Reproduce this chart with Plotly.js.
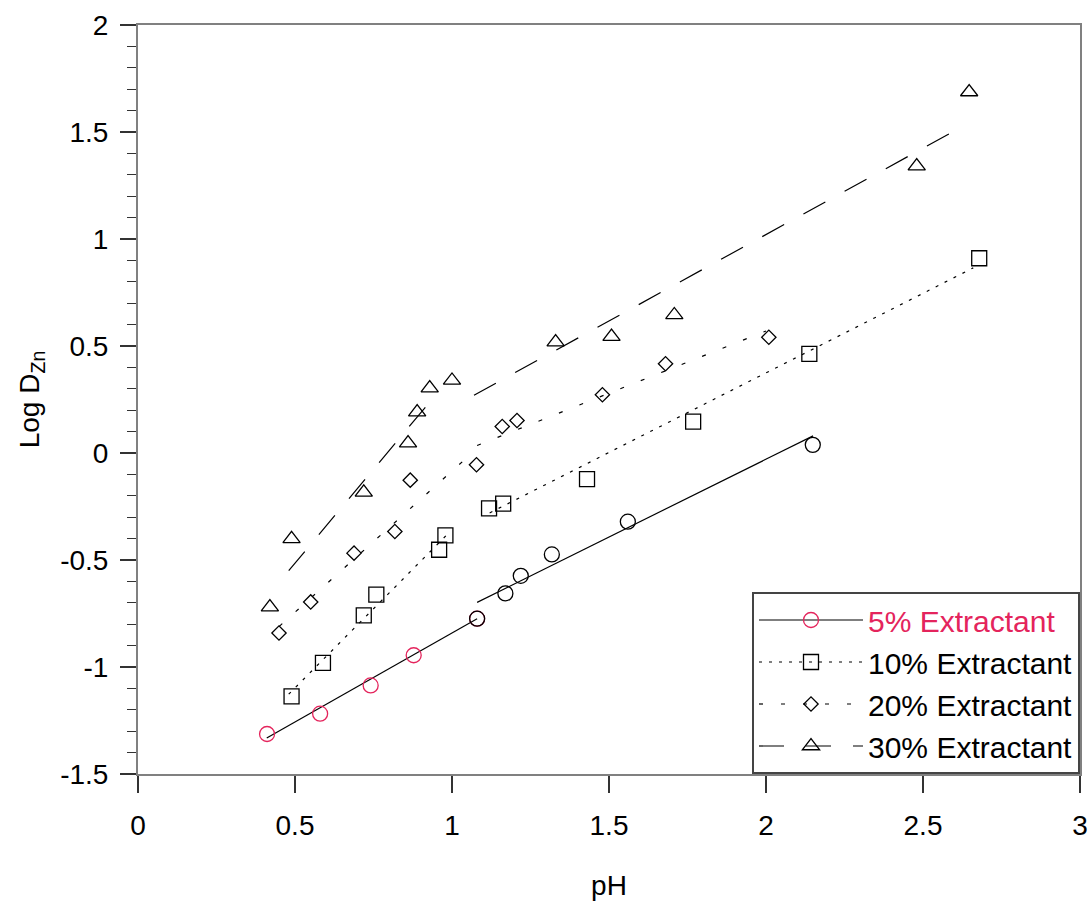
<!DOCTYPE html>
<html>
<head>
<meta charset="utf-8">
<script src="https://cdn.plot.ly/plotly-3.0.1.min.js"></script>
<style>html,body{margin:0;padding:0;background:#fff;}#chart{width:1090px;height:904px;}</style>
</head>
<body>
<div id="chart"></div>
<script>
// ---- Data ----
// 5% Extractant (low-pH points drawn red, high-pH points drawn black)
const pH5a = [0.411, 0.580, 0.741, 0.878, 1.080];
const logD5a = [-1.313, -1.218, -1.086, -0.945, -0.774];
const pH5b = [1.080, 1.170, 1.219, 1.318, 1.560, 2.149];
const logD5b = [-0.774, -0.656, -0.574, -0.474, -0.321, 0.038];
// 10% Extractant
const pH10 = [0.489, 0.589, 0.719, 0.759, 0.959, 0.979, 1.118, 1.163, 1.430, 1.768, 2.138, 2.679];
const logD10 = [-1.137, -0.981, -0.759, -0.662, -0.452, -0.385, -0.259, -0.237, -0.122, 0.147, 0.463, 0.910];
// 20% Extractant
const pH20 = [0.449, 0.550, 0.688, 0.818, 0.867, 1.078, 1.160, 1.207, 1.479, 1.680, 2.009];
const logD20 = [-0.841, -0.696, -0.468, -0.367, -0.127, -0.055, 0.124, 0.152, 0.272, 0.417, 0.541];
// 30% Extractant
const pH30 = [0.420, 0.489, 0.719, 0.860, 0.889, 0.929, 1.000, 1.330, 1.508, 1.708, 2.480, 2.647];
const logD30 = [-0.720, -0.401, -0.184, 0.046, 0.191, 0.303, 0.339, 0.518, 0.544, 0.645, 1.341, 1.687];

// Fitted line segments (two per series): [start, end]
const fit5a_x = [0.41, 1.08],  fit5a_y = [-1.332, -0.775];
const fit5b_x = [1.08, 2.15],  fit5b_y = [-0.698, 0.080];
const fit10a_x = [0.48, 0.99], fit10a_y = [-1.127, -0.373];
const fit10b_x = [1.12, 2.66], fit10b_y = [-0.280, 0.865];
const fit20a_x = [0.45, 1.06], fit20a_y = [-0.810, -0.005];
const fit20b_x = [1.08, 2.00], fit20b_y = [0.035, 0.570];
const fit30a_x = [0.48, 0.93], fit30a_y = [-0.550, 0.240];
const fit30b_x = [1.07, 2.60], fit30b_y = [0.270, 1.505];

const seriesNames = ['5% Extractant', '10% Extractant', '20% Extractant', '30% Extractant'];
const xTickVals = [0, 0.5, 1, 1.5, 2, 2.5, 3];
const xTickText = ['0', '0.5', '1', '1.5', '2', '2.5', '3'];
const yTickVals = [-1.5, -1, -0.5, 0, 0.5, 1, 1.5, 2];
const yTickText = ['-1.5', '-1', '-0.5', '0', '0.5', '1', '1.5', '2'];

// ---- Styles ----
const RED = '#e4245c';
const BLK = '#000000';
const FONT = '"Liberation Sans", Arial, sans-serif';
const dash10 = '3px,7px';
const dash20 = '4px,18px';
const dash30 = '25px,22px';

function pts(x, y, symbol, size, color) {
  return {x: x, y: y, type: 'scatter', mode: 'markers', showlegend: false, hoverinfo: 'skip',
    marker: {symbol: symbol, size: size, color: 'rgba(0,0,0,0)', line: {color: color, width: 1.3}}};
}
function fit(x, y, dash) {
  return {x: x, y: y, type: 'scatter', mode: 'lines', showlegend: false, hoverinfo: 'skip',
    line: {color: BLK, width: 1.2, dash: dash}};
}
function leg(name, symbol, size, mcolor, dash) {
  return {x: [null], y: [null], type: 'scatter', mode: 'lines+markers', name: name, showlegend: true,
    line: {color: BLK, width: 1.2, dash: dash},
    marker: {symbol: symbol, size: size, color: 'rgba(0,0,0,0)', line: {color: mcolor, width: 1.3}}};
}

const data = [
  fit(fit5a_x, fit5a_y, 'solid'), fit(fit5b_x, fit5b_y, 'solid'),
  fit(fit10a_x, fit10a_y, dash10), fit(fit10b_x, fit10b_y, dash10),
  fit(fit20a_x, fit20a_y, dash20), fit(fit20b_x, fit20b_y, dash20),
  fit(fit30a_x, fit30a_y, dash30), fit(fit30b_x, fit30b_y, dash30),
  pts(pH5a, logD5a, 'circle', 15, RED),
  pts(pH5b, logD5b, 'circle', 15, BLK),
  pts(pH10, logD10, 'square', 15, BLK),
  pts(pH20, logD20, 'diamond', 11, BLK),
  pts(pH30, logD30, 'triangle-up', 15, BLK),
  leg('<span style="color:' + RED + '">' + seriesNames[0] + '</span>', 'circle', 15, RED, 'solid'),
  leg(seriesNames[1], 'square', 15, BLK, dash10),
  leg(seriesNames[2], 'diamond', 11, BLK, dash20),
  leg(seriesNames[3], 'triangle-up', 15, BLK, dash30)
];

const layout = {
  width: 1090, height: 904,
  margin: {l: 138, r: 10, t: 25, b: 130},
  paper_bgcolor: '#ffffff', plot_bgcolor: '#ffffff',
  font: {family: FONT, size: 28, color: '#000'},
  showlegend: true,
  xaxis: {
    range: [0, 3], tickmode: 'array', tickvals: xTickVals, ticktext: xTickText,
    ticks: 'outside', ticklen: 17, tickwidth: 1.2, tickcolor: '#333',
    showline: true, linecolor: '#808080', linewidth: 2, mirror: true,
    showgrid: false, zeroline: false, ticklabelstandoff: 8,
    tickfont: {family: FONT, size: 28, color: '#000'},
    title: {text: 'pH', font: {family: FONT, size: 28, color: '#000'}, standoff: 36}
  },
  yaxis: {
    range: [-1.5, 2], tickmode: 'array', tickvals: yTickVals, ticktext: yTickText,
    ticks: 'outside', ticklen: 16, tickwidth: 1.2, tickcolor: '#333',
    minor: {tickmode: 'linear', tick0: 0, dtick: 0.1, ticks: 'outside', ticklen: 9, tickwidth: 1.2, tickcolor: '#333', showgrid: false},
    showline: true, linecolor: '#808080', linewidth: 2, mirror: true,
    showgrid: false, zeroline: false, ticklabelstandoff: 6,
    tickfont: {family: FONT, size: 28, color: '#000'},
    title: {text: 'Log D<sub>Zn</sub>', font: {family: FONT, size: 28, color: '#000'}, standoff: 12}
  },
  legend: {
    x: 1, xanchor: 'right', y: 0, yanchor: 'bottom',
    bgcolor: '#ffffff', bordercolor: '#444', borderwidth: 2,
    font: {family: FONT, size: 30, color: '#000'},
    itemwidth: 104, traceorder: 'normal'
  }
};

Plotly.newPlot('chart', data, layout, {displayModeBar: false, staticPlot: true});
</script>
</body>
</html>
